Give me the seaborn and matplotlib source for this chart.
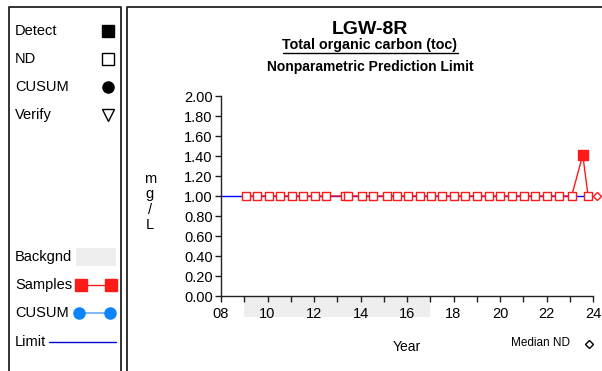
import numpy as np
import pandas as pd
import matplotlib
matplotlib.use("Agg")
import matplotlib.pyplot as plt
import matplotlib.transforms as mtransforms
from matplotlib.patches import Rectangle
import seaborn as sns

sns.set_style("white")
plt.rcParams['font.family'] = ['Liberation Sans', 'DejaVu Sans']
plt.rcParams['text.color'] = 'black'
plt.rcParams['xtick.labelcolor'] = 'black'
plt.rcParams['ytick.labelcolor'] = 'black'

# ---- data ----
site = "LGW-8R"
parameter = "Total organic carbon (toc)"
method = "Nonparametric Prediction Limit"
units_label = "m\ng\n/\nL"

sample_year = [2009.08, 2009.56, 2010.06, 2010.54, 2011.05, 2011.54, 2012.03, 2012.52,
               2013.33, 2013.45, 2014.06, 2014.52, 2015.12, 2015.57, 2016.04, 2016.56,
               2017.03, 2017.52, 2018.02, 2018.51, 2019.02, 2019.51, 2020.00, 2020.52,
               2021.03, 2021.52, 2022.01, 2022.52, 2023.08, 2023.56, 2023.79]
sample_value = [1.00, 1.00, 1.00, 1.00, 1.00, 1.00, 1.00, 1.00,
                1.00, 1.00, 1.00, 1.00, 1.00, 1.00, 1.00, 1.00,
                1.00, 1.00, 1.00, 1.00, 1.00, 1.00, 1.00, 1.00,
                1.00, 1.00, 1.00, 1.00, 1.00, 1.41, 1.00]
detected = [False] * 29 + [True, False]

limit_value = 1.00
median_nd = 1.00
background_start, background_end = 2009, 2017
year_range = (2008, 2024)
y_ticks = [0.0, 0.2, 0.4, 0.6, 0.8, 1.0, 1.2, 1.4, 1.6, 1.8, 2.0]

df = pd.DataFrame({"year": sample_year, "value": sample_value, "detect": detected})

RED = "#ff1a1a"
W, H = 602, 371
fig = plt.figure(figsize=(W / 100, H / 100), dpi=100)

# overlay in pixel coordinates for panel frames and legend
ov = fig.add_axes([0, 0, 1, 1], zorder=0)
ov.set_xlim(0, W)
ov.set_ylim(H, 0)
ov.axis("off")

frame = dict(color="#222222", lw=1.3, solid_capstyle="butt")
ov.plot([9, 9, 121, 121], [H + 2, 7, 7, H + 2], **frame)
ov.plot([127, 127, W + 2], [H + 2, 7, 7], **frame)

leg_fs = 10.5
for label, yy, mk, fc in [("Detect", 31, "s", "black"), ("ND", 59, "s", "white"),
                          ("CUSUM", 87, "o", "black"), ("Verify", 115, "v", "white")]:
    ov.text(15, yy, label, fontsize=leg_fs, va="center", ha="left")
    ov.plot([108], [yy], marker=mk, ms=8, mfc=fc, mec="black", mew=1)

ov.text(15, 257, "Backgnd", fontsize=leg_fs, va="center")
ov.add_patch(Rectangle((76, 248), 40, 18, color="#eeeeee", lw=0))
ov.text(15, 285, "Samples", fontsize=leg_fs, va="center")
ov.plot([81, 111], [285, 285], color=RED, lw=1, marker="s", ms=8, mfc=RED, mec=RED)
ov.text(15, 313, "CUSUM", fontsize=leg_fs, va="center")
ov.plot([79, 110], [313, 313], color="#66aaff", lw=1.2, marker="o", ms=8,
        mfc="#0a84ff", mec="#0a84ff")
ov.text(15, 341.5, "Limit", fontsize=leg_fs, va="center")
ov.plot([49, 116], [341.5, 341.5], color="#0000cc", lw=1)

# titles
ov.text(370, 33.5, site, fontsize=14, fontweight="bold", ha="center", va="baseline")
t2 = ov.text(370, 48.5, parameter, fontsize=10.3, fontweight="bold", ha="center", va="baseline")
ov.text(370, 71.5, method, fontsize=10, fontweight="bold", ha="center", va="baseline")

# ---- main axes ----
ax = fig.add_axes([221 / W, 1 - 296 / H, 372 / W, 200 / H], zorder=1)
ax.patch.set_alpha(0)

ax.hlines(limit_value, year_range[0], sample_year[-1], color="#0000ff", lw=1, zorder=1)
sns.lineplot(data=df, x="year", y="value", sort=False, estimator=None,
             color=RED, lw=1, ax=ax, zorder=2)
sns.scatterplot(data=df[~df["detect"]], x="year", y="value", marker="s", s=40,
                facecolor="white", edgecolor=RED, linewidth=1, ax=ax, zorder=3)
sns.scatterplot(data=df[df["detect"]], x="year", y="value", marker="s", s=48,
                color=RED, edgecolor=RED, linewidth=1, ax=ax, zorder=3)

# median ND marker just past the right edge
off = mtransforms.offset_copy(ax.get_yaxis_transform(), fig=fig, x=3.2, y=0, units="points")
ax.plot([1.0], [median_nd], marker="D", ms=4.5, mfc="white", mec=RED, mew=1,
        transform=off, clip_on=False)

ax.set_xlim(*year_range)
ax.set_ylim(0, 2)
ax.set_yticks(y_ticks)
ax.set_yticklabels([f"{v:.2f}" for v in y_ticks])
ax.set_xticks(range(year_range[0], year_range[1] + 1, 2))
ax.set_xticks(range(year_range[0] + 1, year_range[1], 2), minor=True)
ax.set_xticklabels([f"{y % 100:02d}" for y in range(year_range[0], year_range[1] + 1, 2)])
ax.tick_params(axis="both", which="both", direction="out", length=4, width=1,
               color="#222222", labelsize=10.5, bottom=True, left=True)
ax.tick_params(axis="y", pad=2)
ax.tick_params(axis="x", pad=4)
ax.set_xlabel("")
ax.set_ylabel("")
for s in ["top", "right"]:
    ax.spines[s].set_visible(False)
for s in ["left", "bottom"]:
    ax.spines[s].set_color("#222222")
    ax.spines[s].set_linewidth(1)

# background period band under the axis
bt = mtransforms.blended_transform_factory(ax.transData, ax.transAxes)
ax.add_patch(Rectangle((background_start, -0.105), background_end - background_start, 0.105,
                       transform=bt, color="#eeeeee", lw=0, clip_on=False, zorder=-1))

ax.text(0.5, -0.255, "Year", transform=ax.transAxes, ha="center", va="center", fontsize=10)
ax.text(-0.191, 0.47, units_label, transform=ax.transAxes, ha="center", va="center",
        fontsize=10.5, linespacing=1.15)

ov.text(570, 343, "Median ND", fontsize=8.5, ha="right", va="center")
ov.plot([589], [343.5], marker="D", ms=4.5, mfc="white", mec="black", mew=1)

# underline for the parameter title
fig.canvas.draw()
bb = t2.get_window_extent().transformed(ov.transData.inverted())
ov.plot([bb.x0, bb.x1], [52.5, 52.5], color="black", lw=1)

fig.savefig("out.png", dpi=100)
